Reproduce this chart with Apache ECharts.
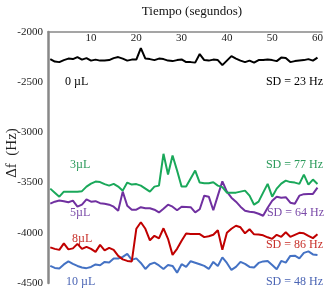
<!DOCTYPE html>
<html><head><meta charset="utf-8">
<script src="https://cdn.jsdelivr.net/npm/echarts@6/dist/echarts.min.js"></script>
<style>html,body{margin:0;padding:0;background:#fff}#c{width:329px;height:302px}</style>
</head><body><div id="c"></div>
<script>
var times = [];
for (var i = 1; i <= 60; i++) times.push(i);
var xTicks = [10, 20, 30, 40, 50, 60];
var yTicks = [-2000, -2500, -3000, -3500, -4000, -4500];
var s0 = [-2270,-2295,-2300,-2280,-2265,-2270,-2250,-2275,-2260,-2285,-2275,-2285,-2285,-2280,-2260,-2250,-2265,-2285,-2275,-2275,-2160,-2265,-2270,-2280,-2265,-2270,-2285,-2290,-2280,-2273,-2300,-2300,-2305,-2220,-2280,-2285,-2275,-2280,-2330,-2285,-2240,-2265,-2285,-2300,-2285,-2305,-2280,-2280,-2275,-2280,-2290,-2255,-2260,-2300,-2290,-2285,-2280,-2270,-2285,-2255];
var s3 = [-3560,-3600,-3640,-3590,-3590,-3590,-3590,-3585,-3540,-3510,-3490,-3495,-3515,-3530,-3513,-3540,-3580,-3500,-3520,-3515,-3530,-3560,-3590,-3540,-3530,-3213,-3420,-3230,-3380,-3540,-3540,-3460,-3380,-3500,-3507,-3507,-3497,-3530,-3545,-3600,-3600,-3600,-3590,-3580,-3630,-3720,-3690,-3600,-3513,-3640,-3560,-3510,-3480,-3495,-3500,-3513,-3420,-3520,-3470,-3513];
var s5 = [-3710,-3690,-3678,-3685,-3695,-3680,-3740,-3720,-3668,-3690,-3685,-3705,-3710,-3720,-3740,-3780,-3590,-3730,-3770,-3770,-3745,-3755,-3755,-3770,-3797,-3760,-3720,-3740,-3775,-3740,-3742,-3745,-3797,-3765,-3630,-3640,-3775,-3630,-3487,-3590,-3650,-3690,-3740,-3780,-3790,-3795,-3810,-3830,-3750,-3680,-3640,-3650,-3645,-3700,-3710,-3630,-3615,-3613,-3613,-3550];
var s8 = [-4145,-4160,-4170,-4105,-4165,-4155,-4110,-4160,-4140,-4160,-4190,-4120,-4175,-4150,-4170,-4230,-4265,-4280,-4285,-3960,-3895,-3960,-4075,-4030,-4055,-3955,-4060,-4220,-4160,-4080,-4007,-4013,-4013,-4013,-4043,-4035,-4020,-3975,-4170,-4000,-3960,-3930,-3945,-4005,-3965,-4015,-4017,-4025,-4045,-4060,-4020,-4040,-3995,-4040,-4020,-4000,-4005,-4030,-4053,-4015];
var s10 = [-4330,-4350,-4355,-4315,-4285,-4310,-4330,-4345,-4352,-4340,-4315,-4323,-4290,-4295,-4255,-4257,-4240,-4210,-4270,-4255,-4300,-4360,-4313,-4297,-4325,-4360,-4320,-4330,-4397,-4313,-4340,-4283,-4298,-4313,-4330,-4360,-4290,-4330,-4245,-4300,-4370,-4340,-4290,-4310,-4340,-4345,-4300,-4285,-4280,-4320,-4363,-4280,-4297,-4230,-4228,-4255,-4200,-4185,-4215,-4220];
var names = ['0 µL','3µL','5µL','8µL','10 µL'];
var sds = ['SD = 23 Hz','SD = 77 Hz','SD = 64 Hz','SD = 86 Hz','SD = 48 Hz'];

function pairs(arr){ return arr.map(function(v,i){ return [times[i], v]; }); }
var colors = ['#000000','#1aa85a','#7030a0','#c00000','#4472c4'];
var textColors = ['#000000','#2a9a5a','#7a4aa8','#c8302a','#4a64b4'];
var data = [s0,s3,s5,s8,s10];
var F = '"Liberation Serif", "Times New Roman", serif';

var chart = echarts.init(document.getElementById('c'));
var series = data.map(function(d,k){
  return {type:'line', data:pairs(d), showSymbol:false, symbol:'none',
    lineStyle:{color:colors[k], width:2}, itemStyle:{color:colors[k]}, animation:false, z: 5-k};
});
var labelPos = [[65,82],[70,165],[70,213],[72,239],[66,282]];
var sdPos = [[323,82],[323,165],[324,213],[323,245],[323,282]];
var graphics = [];
for (var k=0;k<5;k++){
  graphics.push({type:'text', x:labelPos[k][0], y:labelPos[k][1], style:{text:names[k], fill:textColors[k], font:'12px '+F, textAlign:'left', textVerticalAlign:'middle'}});
  graphics.push({type:'text', x:sdPos[k][0], y:sdPos[k][1], style:{text:sds[k], fill:textColors[k], font:'12px '+F, textAlign:'right', textVerticalAlign:'middle'}});
}
graphics.push({type:'text', x:192, y:12, style:{text:'Tiempo (segundos)', fill:'#111', font:'13px '+F, textAlign:'center', textVerticalAlign:'middle'}});
graphics.push({type:'text', x:12, y:153, rotation:Math.PI/2, style:{text:'Δf  (Hz)', fill:'#222', font:'15px '+F, textAlign:'center', textVerticalAlign:'middle'}});
chart.setOption({
  animation:false,
  grid:{left:48, top:32, right:7, bottom:19, containLabel:false, outerBoundsMode:'none'},
  xAxis:{type:'value', position:'top', min:0.5, max:61, interval:10,
    axisLine:{show:true, onZero:false, lineStyle:{color:'#888', width:1.5}},
    axisTick:{show:false}, splitLine:{show:false},
    axisLabel:{inside:true, margin:1, fontFamily:F, fontSize:11, color:'#222',
      customValues: xTicks, formatter:function(v){ return xTicks.indexOf(Math.round(v))>=0 ? String(Math.round(v)) : ''; }}
  },
  yAxis:{type:'value', min:-4500, max:-2000, interval:500,
    axisLine:{show:true, onZero:false, lineStyle:{color:'#888', width:2.5}},
    axisTick:{show:false}, splitLine:{show:false},
    axisLabel:{margin:5, fontFamily:F, fontSize:11, color:'#222',
      formatter:function(v){ return yTicks.indexOf(v)>=0 ? String(v) : ''; }}
  },
  series:series,
  graphic:graphics
});
</script></body></html>
